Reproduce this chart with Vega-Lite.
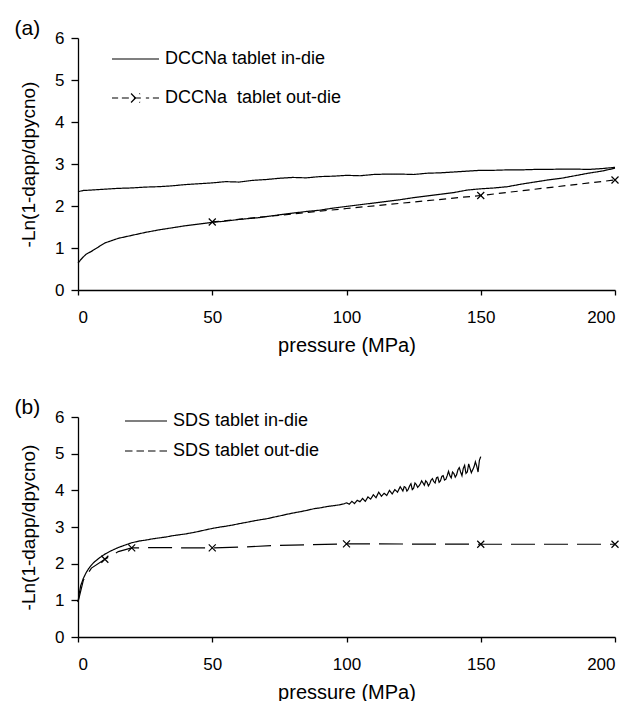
{
  "$schema": "https://vega.github.io/schema/vega-lite/v6.json",
  "background": "white",
  "padding": {"left": 14, "top": 18, "right": 5, "bottom": 2},
  "resolve": {"scale": {"color": "independent", "strokeDash": "independent"}, "legend": {"color": "independent"}},
  "config": {
    "view": {"stroke": null},
    "font": "Liberation Sans",
    "concat": {"spacing": 42},
    "axis": {"domainColor": "black", "tickColor": "black", "labelColor": "black", "titleColor": "black", "grid": false, "labelFont": "Liberation Sans", "titleFont": "Liberation Sans", "labelFontSize": 17, "titleFontWeight": "normal", "domainWidth": 1.3, "tickWidth": 1.3, "labelOverlap": false},
    "axisX": {"tickSize": 5, "labelPadding": 14, "titleFontSize": 20, "titlePadding": 10},
    "axisY": {"tickSize": 7, "labelPadding": 7, "titleFontSize": 19, "titlePadding": 16},
    "title": {"font": "Liberation Sans", "fontSize": 21, "fontWeight": "normal", "anchor": "start", "frame": "bounds", "color": "black", "offset": -10, "dx": -5},
    "legend": {"orient": "none", "title": null, "symbolType": "stroke", "symbolStrokeWidth": 1.2, "symbolStrokeColor": "black", "labelFontSize": 18, "labelFont": "Liberation Sans", "labelColor": "black", "labelOffset": 5, "clipHeight": 20, "labelLimit": 400, "padding": 0}
  },
  "datasets": {
    "a_lines": [
      {"pressure": 0, "value": 2.34, "series": "DCCNa tablet in-die", "curve": "u"},
      {"pressure": 2, "value": 2.37, "series": "DCCNa tablet in-die", "curve": "u"},
      {"pressure": 5, "value": 2.38, "series": "DCCNa tablet in-die", "curve": "u"},
      {"pressure": 10, "value": 2.4, "series": "DCCNa tablet in-die", "curve": "u"},
      {"pressure": 15, "value": 2.42, "series": "DCCNa tablet in-die", "curve": "u"},
      {"pressure": 20, "value": 2.43, "series": "DCCNa tablet in-die", "curve": "u"},
      {"pressure": 25, "value": 2.45, "series": "DCCNa tablet in-die", "curve": "u"},
      {"pressure": 30, "value": 2.46, "series": "DCCNa tablet in-die", "curve": "u"},
      {"pressure": 35, "value": 2.48, "series": "DCCNa tablet in-die", "curve": "u"},
      {"pressure": 40, "value": 2.51, "series": "DCCNa tablet in-die", "curve": "u"},
      {"pressure": 45, "value": 2.53, "series": "DCCNa tablet in-die", "curve": "u"},
      {"pressure": 50, "value": 2.55, "series": "DCCNa tablet in-die", "curve": "u"},
      {"pressure": 55, "value": 2.58, "series": "DCCNa tablet in-die", "curve": "u"},
      {"pressure": 60, "value": 2.57, "series": "DCCNa tablet in-die", "curve": "u"},
      {"pressure": 65, "value": 2.61, "series": "DCCNa tablet in-die", "curve": "u"},
      {"pressure": 70, "value": 2.63, "series": "DCCNa tablet in-die", "curve": "u"},
      {"pressure": 75, "value": 2.66, "series": "DCCNa tablet in-die", "curve": "u"},
      {"pressure": 80, "value": 2.68, "series": "DCCNa tablet in-die", "curve": "u"},
      {"pressure": 85, "value": 2.67, "series": "DCCNa tablet in-die", "curve": "u"},
      {"pressure": 90, "value": 2.7, "series": "DCCNa tablet in-die", "curve": "u"},
      {"pressure": 95, "value": 2.71, "series": "DCCNa tablet in-die", "curve": "u"},
      {"pressure": 100, "value": 2.73, "series": "DCCNa tablet in-die", "curve": "u"},
      {"pressure": 105, "value": 2.72, "series": "DCCNa tablet in-die", "curve": "u"},
      {"pressure": 110, "value": 2.75, "series": "DCCNa tablet in-die", "curve": "u"},
      {"pressure": 115, "value": 2.76, "series": "DCCNa tablet in-die", "curve": "u"},
      {"pressure": 120, "value": 2.76, "series": "DCCNa tablet in-die", "curve": "u"},
      {"pressure": 125, "value": 2.75, "series": "DCCNa tablet in-die", "curve": "u"},
      {"pressure": 130, "value": 2.78, "series": "DCCNa tablet in-die", "curve": "u"},
      {"pressure": 135, "value": 2.79, "series": "DCCNa tablet in-die", "curve": "u"},
      {"pressure": 140, "value": 2.81, "series": "DCCNa tablet in-die", "curve": "u"},
      {"pressure": 145, "value": 2.83, "series": "DCCNa tablet in-die", "curve": "u"},
      {"pressure": 150, "value": 2.85, "series": "DCCNa tablet in-die", "curve": "u"},
      {"pressure": 155, "value": 2.85, "series": "DCCNa tablet in-die", "curve": "u"},
      {"pressure": 160, "value": 2.86, "series": "DCCNa tablet in-die", "curve": "u"},
      {"pressure": 165, "value": 2.86, "series": "DCCNa tablet in-die", "curve": "u"},
      {"pressure": 170, "value": 2.87, "series": "DCCNa tablet in-die", "curve": "u"},
      {"pressure": 175, "value": 2.87, "series": "DCCNa tablet in-die", "curve": "u"},
      {"pressure": 180, "value": 2.88, "series": "DCCNa tablet in-die", "curve": "u"},
      {"pressure": 185, "value": 2.88, "series": "DCCNa tablet in-die", "curve": "u"},
      {"pressure": 190, "value": 2.87, "series": "DCCNa tablet in-die", "curve": "u"},
      {"pressure": 195, "value": 2.89, "series": "DCCNa tablet in-die", "curve": "u"},
      {"pressure": 200, "value": 2.92, "series": "DCCNa tablet in-die", "curve": "u"},
      {"pressure": 0, "value": 0.64, "series": "DCCNa tablet in-die", "curve": "l"},
      {"pressure": 1, "value": 0.72, "series": "DCCNa tablet in-die", "curve": "l"},
      {"pressure": 2, "value": 0.79, "series": "DCCNa tablet in-die", "curve": "l"},
      {"pressure": 3, "value": 0.85, "series": "DCCNa tablet in-die", "curve": "l"},
      {"pressure": 5, "value": 0.92, "series": "DCCNa tablet in-die", "curve": "l"},
      {"pressure": 7.5, "value": 1.02, "series": "DCCNa tablet in-die", "curve": "l"},
      {"pressure": 10, "value": 1.12, "series": "DCCNa tablet in-die", "curve": "l"},
      {"pressure": 15, "value": 1.23, "series": "DCCNa tablet in-die", "curve": "l"},
      {"pressure": 20, "value": 1.3, "series": "DCCNa tablet in-die", "curve": "l"},
      {"pressure": 25, "value": 1.37, "series": "DCCNa tablet in-die", "curve": "l"},
      {"pressure": 30, "value": 1.43, "series": "DCCNa tablet in-die", "curve": "l"},
      {"pressure": 35, "value": 1.48, "series": "DCCNa tablet in-die", "curve": "l"},
      {"pressure": 40, "value": 1.53, "series": "DCCNa tablet in-die", "curve": "l"},
      {"pressure": 45, "value": 1.57, "series": "DCCNa tablet in-die", "curve": "l"},
      {"pressure": 50, "value": 1.61, "series": "DCCNa tablet in-die", "curve": "l"},
      {"pressure": 55, "value": 1.64, "series": "DCCNa tablet in-die", "curve": "l"},
      {"pressure": 60, "value": 1.68, "series": "DCCNa tablet in-die", "curve": "l"},
      {"pressure": 67, "value": 1.72, "series": "DCCNa tablet in-die", "curve": "l"},
      {"pressure": 75, "value": 1.79, "series": "DCCNa tablet in-die", "curve": "l"},
      {"pressure": 80, "value": 1.83, "series": "DCCNa tablet in-die", "curve": "l"},
      {"pressure": 85, "value": 1.87, "series": "DCCNa tablet in-die", "curve": "l"},
      {"pressure": 90, "value": 1.9, "series": "DCCNa tablet in-die", "curve": "l"},
      {"pressure": 95, "value": 1.95, "series": "DCCNa tablet in-die", "curve": "l"},
      {"pressure": 100, "value": 1.99, "series": "DCCNa tablet in-die", "curve": "l"},
      {"pressure": 105, "value": 2.03, "series": "DCCNa tablet in-die", "curve": "l"},
      {"pressure": 110, "value": 2.07, "series": "DCCNa tablet in-die", "curve": "l"},
      {"pressure": 115, "value": 2.11, "series": "DCCNa tablet in-die", "curve": "l"},
      {"pressure": 120, "value": 2.15, "series": "DCCNa tablet in-die", "curve": "l"},
      {"pressure": 125, "value": 2.2, "series": "DCCNa tablet in-die", "curve": "l"},
      {"pressure": 130, "value": 2.24, "series": "DCCNa tablet in-die", "curve": "l"},
      {"pressure": 135, "value": 2.28, "series": "DCCNa tablet in-die", "curve": "l"},
      {"pressure": 140, "value": 2.32, "series": "DCCNa tablet in-die", "curve": "l"},
      {"pressure": 145, "value": 2.38, "series": "DCCNa tablet in-die", "curve": "l"},
      {"pressure": 150, "value": 2.41, "series": "DCCNa tablet in-die", "curve": "l"},
      {"pressure": 155, "value": 2.43, "series": "DCCNa tablet in-die", "curve": "l"},
      {"pressure": 160, "value": 2.46, "series": "DCCNa tablet in-die", "curve": "l"},
      {"pressure": 165, "value": 2.52, "series": "DCCNa tablet in-die", "curve": "l"},
      {"pressure": 170, "value": 2.57, "series": "DCCNa tablet in-die", "curve": "l"},
      {"pressure": 175, "value": 2.62, "series": "DCCNa tablet in-die", "curve": "l"},
      {"pressure": 180, "value": 2.66, "series": "DCCNa tablet in-die", "curve": "l"},
      {"pressure": 185, "value": 2.72, "series": "DCCNa tablet in-die", "curve": "l"},
      {"pressure": 190, "value": 2.78, "series": "DCCNa tablet in-die", "curve": "l"},
      {"pressure": 195, "value": 2.83, "series": "DCCNa tablet in-die", "curve": "l"},
      {"pressure": 200, "value": 2.9, "series": "DCCNa tablet in-die", "curve": "l"},
      {"pressure": 50, "value": 1.62, "series": "DCCNa\u00a0 tablet out-die", "curve": "o"},
      {"pressure": 100, "value": 1.94, "series": "DCCNa\u00a0 tablet out-die", "curve": "o"},
      {"pressure": 150, "value": 2.25, "series": "DCCNa\u00a0 tablet out-die", "curve": "o"},
      {"pressure": 200, "value": 2.62, "series": "DCCNa\u00a0 tablet out-die", "curve": "o"}
    ],
    "a_marks": [
      {"pressure": 50, "value": 1.62},
      {"pressure": 150, "value": 2.25},
      {"pressure": 200, "value": 2.62}
    ],
    "b_lines": [
      {"pressure": 0, "value": 0.95, "series": "SDS tablet in-die"},
      {"pressure": 0.5, "value": 1.2, "series": "SDS tablet in-die"},
      {"pressure": 1, "value": 1.4, "series": "SDS tablet in-die"},
      {"pressure": 2, "value": 1.6, "series": "SDS tablet in-die"},
      {"pressure": 3, "value": 1.75, "series": "SDS tablet in-die"},
      {"pressure": 4, "value": 1.87, "series": "SDS tablet in-die"},
      {"pressure": 5, "value": 1.96, "series": "SDS tablet in-die"},
      {"pressure": 6, "value": 2.04, "series": "SDS tablet in-die"},
      {"pressure": 8, "value": 2.16, "series": "SDS tablet in-die"},
      {"pressure": 10, "value": 2.26, "series": "SDS tablet in-die"},
      {"pressure": 12, "value": 2.34, "series": "SDS tablet in-die"},
      {"pressure": 15, "value": 2.44, "series": "SDS tablet in-die"},
      {"pressure": 18, "value": 2.52, "series": "SDS tablet in-die"},
      {"pressure": 20, "value": 2.57, "series": "SDS tablet in-die"},
      {"pressure": 23, "value": 2.62, "series": "SDS tablet in-die"},
      {"pressure": 25, "value": 2.64, "series": "SDS tablet in-die"},
      {"pressure": 28, "value": 2.68, "series": "SDS tablet in-die"},
      {"pressure": 30, "value": 2.7, "series": "SDS tablet in-die"},
      {"pressure": 33, "value": 2.73, "series": "SDS tablet in-die"},
      {"pressure": 35, "value": 2.76, "series": "SDS tablet in-die"},
      {"pressure": 38, "value": 2.79, "series": "SDS tablet in-die"},
      {"pressure": 40, "value": 2.81, "series": "SDS tablet in-die"},
      {"pressure": 43, "value": 2.85, "series": "SDS tablet in-die"},
      {"pressure": 45, "value": 2.88, "series": "SDS tablet in-die"},
      {"pressure": 48, "value": 2.93, "series": "SDS tablet in-die"},
      {"pressure": 50, "value": 2.96, "series": "SDS tablet in-die"},
      {"pressure": 53, "value": 3.0, "series": "SDS tablet in-die"},
      {"pressure": 55, "value": 3.02, "series": "SDS tablet in-die"},
      {"pressure": 58, "value": 3.06, "series": "SDS tablet in-die"},
      {"pressure": 60, "value": 3.09, "series": "SDS tablet in-die"},
      {"pressure": 63, "value": 3.13, "series": "SDS tablet in-die"},
      {"pressure": 65, "value": 3.16, "series": "SDS tablet in-die"},
      {"pressure": 68, "value": 3.2, "series": "SDS tablet in-die"},
      {"pressure": 70, "value": 3.22, "series": "SDS tablet in-die"},
      {"pressure": 73, "value": 3.27, "series": "SDS tablet in-die"},
      {"pressure": 75, "value": 3.3, "series": "SDS tablet in-die"},
      {"pressure": 78, "value": 3.35, "series": "SDS tablet in-die"},
      {"pressure": 80, "value": 3.38, "series": "SDS tablet in-die"},
      {"pressure": 83, "value": 3.42, "series": "SDS tablet in-die"},
      {"pressure": 85, "value": 3.45, "series": "SDS tablet in-die"},
      {"pressure": 88, "value": 3.5, "series": "SDS tablet in-die"},
      {"pressure": 90, "value": 3.52, "series": "SDS tablet in-die"},
      {"pressure": 93, "value": 3.56, "series": "SDS tablet in-die"},
      {"pressure": 95, "value": 3.58, "series": "SDS tablet in-die"},
      {"pressure": 97, "value": 3.6, "series": "SDS tablet in-die"},
      {"pressure": 99, "value": 3.63, "series": "SDS tablet in-die"},
      {"pressure": 100, "value": 3.66, "series": "SDS tablet in-die"},
      {"pressure": 101, "value": 3.62, "series": "SDS tablet in-die"},
      {"pressure": 102, "value": 3.7, "series": "SDS tablet in-die"},
      {"pressure": 103, "value": 3.64, "series": "SDS tablet in-die"},
      {"pressure": 104, "value": 3.73, "series": "SDS tablet in-die"},
      {"pressure": 105, "value": 3.69, "series": "SDS tablet in-die"},
      {"pressure": 106, "value": 3.78, "series": "SDS tablet in-die"},
      {"pressure": 107, "value": 3.7, "series": "SDS tablet in-die"},
      {"pressure": 108, "value": 3.82, "series": "SDS tablet in-die"},
      {"pressure": 109, "value": 3.76, "series": "SDS tablet in-die"},
      {"pressure": 110, "value": 3.88, "series": "SDS tablet in-die"},
      {"pressure": 111, "value": 3.8, "series": "SDS tablet in-die"},
      {"pressure": 112, "value": 3.95, "series": "SDS tablet in-die"},
      {"pressure": 113, "value": 3.84, "series": "SDS tablet in-die"},
      {"pressure": 114, "value": 3.92, "series": "SDS tablet in-die"},
      {"pressure": 115, "value": 3.86, "series": "SDS tablet in-die"},
      {"pressure": 116, "value": 4.0, "series": "SDS tablet in-die"},
      {"pressure": 117, "value": 3.9, "series": "SDS tablet in-die"},
      {"pressure": 118, "value": 4.02, "series": "SDS tablet in-die"},
      {"pressure": 119, "value": 3.95, "series": "SDS tablet in-die"},
      {"pressure": 120, "value": 4.1, "series": "SDS tablet in-die"},
      {"pressure": 120.5, "value": 4.04, "series": "SDS tablet in-die"},
      {"pressure": 121, "value": 3.98, "series": "SDS tablet in-die"},
      {"pressure": 121.5, "value": 4.1, "series": "SDS tablet in-die"},
      {"pressure": 122, "value": 4.08, "series": "SDS tablet in-die"},
      {"pressure": 122.5, "value": 3.98, "series": "SDS tablet in-die"},
      {"pressure": 123, "value": 4.03, "series": "SDS tablet in-die"},
      {"pressure": 123.5, "value": 4.12, "series": "SDS tablet in-die"},
      {"pressure": 124, "value": 4.18, "series": "SDS tablet in-die"},
      {"pressure": 124.5, "value": 4.02, "series": "SDS tablet in-die"},
      {"pressure": 125, "value": 4.06, "series": "SDS tablet in-die"},
      {"pressure": 125.5, "value": 4.2, "series": "SDS tablet in-die"},
      {"pressure": 126, "value": 4.16, "series": "SDS tablet in-die"},
      {"pressure": 126.5, "value": 4.08, "series": "SDS tablet in-die"},
      {"pressure": 127, "value": 4.12, "series": "SDS tablet in-die"},
      {"pressure": 127.5, "value": 4.18, "series": "SDS tablet in-die"},
      {"pressure": 128, "value": 4.26, "series": "SDS tablet in-die"},
      {"pressure": 128.5, "value": 4.2, "series": "SDS tablet in-die"},
      {"pressure": 129, "value": 4.14, "series": "SDS tablet in-die"},
      {"pressure": 129.5, "value": 4.26, "series": "SDS tablet in-die"},
      {"pressure": 130, "value": 4.22, "series": "SDS tablet in-die"},
      {"pressure": 130.5, "value": 4.12, "series": "SDS tablet in-die"},
      {"pressure": 131, "value": 4.18, "series": "SDS tablet in-die"},
      {"pressure": 131.5, "value": 4.28, "series": "SDS tablet in-die"},
      {"pressure": 132, "value": 4.32, "series": "SDS tablet in-die"},
      {"pressure": 132.5, "value": 4.24, "series": "SDS tablet in-die"},
      {"pressure": 133, "value": 4.2, "series": "SDS tablet in-die"},
      {"pressure": 133.5, "value": 4.34, "series": "SDS tablet in-die"},
      {"pressure": 134, "value": 4.36, "series": "SDS tablet in-die"},
      {"pressure": 134.5, "value": 4.22, "series": "SDS tablet in-die"},
      {"pressure": 135, "value": 4.26, "series": "SDS tablet in-die"},
      {"pressure": 135.5, "value": 4.38, "series": "SDS tablet in-die"},
      {"pressure": 136, "value": 4.4, "series": "SDS tablet in-die"},
      {"pressure": 136.5, "value": 4.28, "series": "SDS tablet in-die"},
      {"pressure": 137, "value": 4.3, "series": "SDS tablet in-die"},
      {"pressure": 137.5, "value": 4.4, "series": "SDS tablet in-die"},
      {"pressure": 138, "value": 4.52, "series": "SDS tablet in-die"},
      {"pressure": 138.5, "value": 4.4, "series": "SDS tablet in-die"},
      {"pressure": 139, "value": 4.34, "series": "SDS tablet in-die"},
      {"pressure": 139.5, "value": 4.5, "series": "SDS tablet in-die"},
      {"pressure": 140, "value": 4.46, "series": "SDS tablet in-die"},
      {"pressure": 140.5, "value": 4.36, "series": "SDS tablet in-die"},
      {"pressure": 141, "value": 4.42, "series": "SDS tablet in-die"},
      {"pressure": 141.5, "value": 4.56, "series": "SDS tablet in-die"},
      {"pressure": 142, "value": 4.62, "series": "SDS tablet in-die"},
      {"pressure": 142.5, "value": 4.5, "series": "SDS tablet in-die"},
      {"pressure": 143, "value": 4.4, "series": "SDS tablet in-die"},
      {"pressure": 143.5, "value": 4.6, "series": "SDS tablet in-die"},
      {"pressure": 144, "value": 4.68, "series": "SDS tablet in-die"},
      {"pressure": 144.5, "value": 4.46, "series": "SDS tablet in-die"},
      {"pressure": 145, "value": 4.5, "series": "SDS tablet in-die"},
      {"pressure": 145.5, "value": 4.72, "series": "SDS tablet in-die"},
      {"pressure": 146, "value": 4.6, "series": "SDS tablet in-die"},
      {"pressure": 146.5, "value": 4.48, "series": "SDS tablet in-die"},
      {"pressure": 147, "value": 4.56, "series": "SDS tablet in-die"},
      {"pressure": 147.5, "value": 4.64, "series": "SDS tablet in-die"},
      {"pressure": 148, "value": 4.78, "series": "SDS tablet in-die"},
      {"pressure": 148.5, "value": 4.66, "series": "SDS tablet in-die"},
      {"pressure": 149, "value": 4.5, "series": "SDS tablet in-die"},
      {"pressure": 149.5, "value": 4.82, "series": "SDS tablet in-die"},
      {"pressure": 150, "value": 4.92, "series": "SDS tablet in-die"},
      {"pressure": 0, "value": 0.95, "series": "SDS tablet out-die"},
      {"pressure": 2, "value": 1.55, "series": "SDS tablet out-die"},
      {"pressure": 5, "value": 1.88, "series": "SDS tablet out-die"},
      {"pressure": 10, "value": 2.12, "series": "SDS tablet out-die"},
      {"pressure": 15, "value": 2.33, "series": "SDS tablet out-die"},
      {"pressure": 20, "value": 2.43, "series": "SDS tablet out-die"},
      {"pressure": 30, "value": 2.44, "series": "SDS tablet out-die"},
      {"pressure": 40, "value": 2.43, "series": "SDS tablet out-die"},
      {"pressure": 50, "value": 2.43, "series": "SDS tablet out-die"},
      {"pressure": 60, "value": 2.45, "series": "SDS tablet out-die"},
      {"pressure": 75, "value": 2.5, "series": "SDS tablet out-die"},
      {"pressure": 100, "value": 2.54, "series": "SDS tablet out-die"},
      {"pressure": 150, "value": 2.53, "series": "SDS tablet out-die"},
      {"pressure": 200, "value": 2.53, "series": "SDS tablet out-die"}
    ],
    "b_marks": [
      {"pressure": 10, "value": 2.12},
      {"pressure": 20, "value": 2.43},
      {"pressure": 50, "value": 2.43},
      {"pressure": 100, "value": 2.54},
      {"pressure": 150, "value": 2.53},
      {"pressure": 200, "value": 2.53}
    ]
  },
  "vconcat": [
    {
      "title": {"text": "(a)"},
      "width": 537,
      "height": 252,
      "encoding": {
        "x": {"field": "pressure", "type": "quantitative", "scale": {"domain": [0, 200]}, "axis": {"values": [0, 50, 100, 150, 200], "title": "pressure (MPa)"}},
        "y": {"field": "value", "type": "quantitative", "scale": {"domain": [0, 6]}, "axis": {"values": [0, 1, 2, 3, 4, 5, 6], "title": "-Ln(1-dapp/dpycno)"}}
      },
      "layer": [
        {
          "data": {"name": "a_lines"},
          "mark": {"type": "line", "strokeWidth": 1.2},
          "encoding": {
            "detail": {"field": "curve", "type": "nominal"},
            "color": {"field": "series", "type": "nominal", "scale": {"domain": ["DCCNa tablet in-die", "DCCNa\u00a0 tablet out-die"], "range": ["black", "black"]},
              "legend": {"legendX": 33, "legendY": 11, "symbolSize": 2209, "rowPadding": 19,
                "encode": {"symbols": {"update": {"shape": {"signal": "indexof(datum.value, 'out-die') >= 0 ? 'M-1,0L-0.74,0M-0.58,0L0.58,0M0.74,0L1,0M-0.19,-0.19L0.19,0.19M-0.19,0.19L0.19,-0.19' : 'M-1,0L1,0'"}, "fill": {"value": "transparent"}, "stroke": {"value": "black"}, "strokeDash": {"value": [1, 0]}}}}}},
            "strokeDash": {"field": "series", "type": "nominal", "scale": {"domain": ["DCCNa tablet in-die", "DCCNa\u00a0 tablet out-die"], "range": [[1, 0], [7, 5]]}, "legend": null}
          }
        },
        {
          "data": {"name": "a_marks"},
          "mark": {"type": "point", "shape": "M-1,-1L1,1M-1,1L1,-1", "size": 49, "stroke": "black", "strokeWidth": 1.2, "filled": false, "opacity": 1}
        }
      ]
    },
    {
      "title": {"text": "(b)"},
      "width": 537,
      "height": 220,
      "encoding": {
        "x": {"field": "pressure", "type": "quantitative", "scale": {"domain": [0, 200]}, "axis": {"values": [0, 50, 100, 150, 200], "title": "pressure (MPa)"}},
        "y": {"field": "value", "type": "quantitative", "scale": {"domain": [0, 6]}, "axis": {"values": [0, 1, 2, 3, 4, 5, 6], "title": "-Ln(1-dapp/dpycno)"}}
      },
      "layer": [
        {
          "data": {"name": "b_lines"},
          "mark": {"type": "line", "strokeWidth": 1.2},
          "encoding": {
            "color": {"field": "series", "type": "nominal", "scale": {"domain": ["SDS tablet in-die", "SDS tablet out-die"], "range": ["black", "black"]},
              "legend": {"legendX": 46, "legendY": -6, "symbolSize": 1764, "rowPadding": 10,
                "encode": {"symbols": {"update": {"shape": {"signal": "indexof(datum.value, 'out-die') >= 0 ? 'M-1,0L-0.643,0M-0.453,0L-0.096,0M0.096,0L0.453,0M0.643,0L1,0' : 'M-1,0L1,0'"}, "fill": {"value": "transparent"}, "stroke": {"value": "black"}, "strokeDash": {"value": [1, 0]}}}}}},
            "strokeDash": {"field": "series", "type": "nominal", "scale": {"domain": ["SDS tablet in-die", "SDS tablet out-die"], "range": [[1, 0], [24, 9]]}, "legend": null}
          }
        },
        {
          "data": {"name": "b_marks"},
          "mark": {"type": "point", "shape": "M-1,-1L1,1M-1,1L1,-1", "size": 49, "stroke": "black", "strokeWidth": 1.2, "filled": false, "opacity": 1}
        }
      ]
    }
  ]
}
